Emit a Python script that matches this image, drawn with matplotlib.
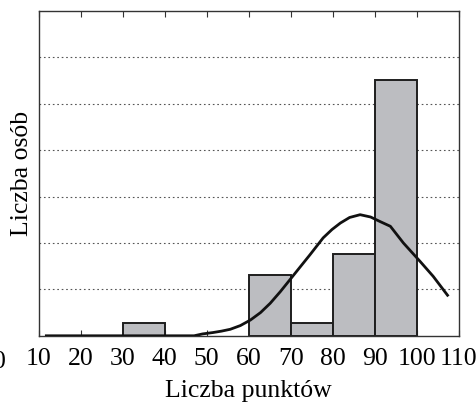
import numpy as np
import matplotlib
matplotlib.use('Agg')
import matplotlib.pyplot as plt
from matplotlib import transforms

# histogram bins (left edges) and bar heights, in gridline units
bin_left = [30, 60, 70, 80, 90]
bin_height = [0.27, 1.30, 0.27, 1.77, 5.52]
bin_width = 10

# fitted curve
curve_x = [11.5, 47.0, 49.0, 51.5, 53.5, 55.6, 58.0, 60.4, 62.8, 65.1, 67.5,
           69.9, 72.2, 74.6, 77.7, 79.8, 81.8, 84.0, 86.5, 89.0, 91.3, 93.7,
           96.8, 98.8, 100.8, 103.9, 107.5]
curve_y = [0.0, 0.0, 0.04, 0.07, 0.1, 0.14, 0.22, 0.34, 0.50, 0.70, 0.95,
           1.22, 1.48, 1.75, 2.11, 2.29, 2.43, 2.55, 2.61, 2.56, 2.46, 2.36,
           2.0, 1.80, 1.60, 1.28, 0.85]

xticks = [10, 20, 30, 40, 50, 60, 70, 80, 90, 100, 110]
grid_levels = [1, 2, 3, 4, 5, 6]

plt.rcParams['font.family'] = ['Liberation Serif', 'DejaVu Serif']
FS = 18.5

fig = plt.figure(figsize=(4.77, 4.08), dpi=100)
ax = fig.add_axes([0.081, 0.177, 0.881, 0.796])

ax.bar(bin_left, bin_height, width=bin_width, align='edge',
       color='#bcbdc1', edgecolor='#1e1e1e', linewidth=1.4, zorder=2)
ax.plot(curve_x, curve_y, color='#111111', linewidth=2.0, zorder=3,
        solid_capstyle='butt', solid_joinstyle='round')

for g in grid_levels:
    ax.axhline(g, color='#555555', linestyle=(0, (1.5, 2.5)), linewidth=0.8,
               zorder=1)

ax.set_xlim(10, 110)
ax.set_ylim(0, 7)
ax.set_xticks(xticks)
ax.set_xticklabels([str(t) for t in xticks])
ax.set_yticks([])
ax.tick_params(axis='x', direction='in', length=4, width=0.8,
               top=True, labelsize=FS, pad=9, color='#333333')

# the "0" label sits outside the frame on the left, half cut off
trans = transforms.blended_transform_factory(ax.transData, ax.transAxes)
ax.text(0.6, -0.046, '0', transform=trans, ha='center', va='top',
        fontsize=FS, clip_on=False)

for s in ax.spines.values():
    s.set_linewidth(1.0)
    s.set_color('#333333')

ax.set_xlabel('Liczba punktów', fontsize=FS, labelpad=7)
ax.set_ylabel('Liczba osób', fontsize=FS, labelpad=4)

fig.savefig('out.png', dpi=100)
